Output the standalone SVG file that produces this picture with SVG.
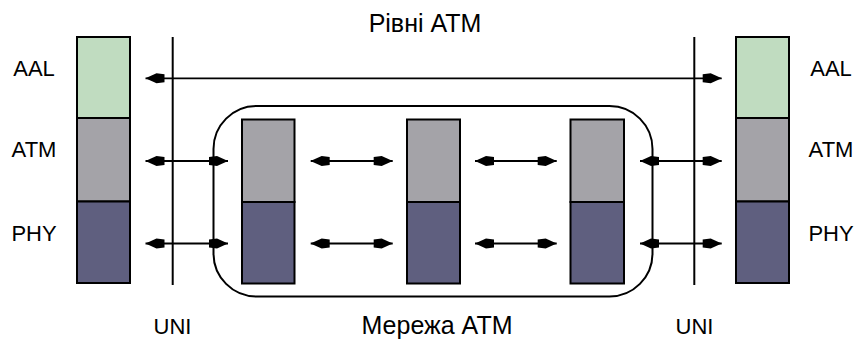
<svg xmlns="http://www.w3.org/2000/svg" width="856" height="340" viewBox="0 0 856 340">
<style>
text{font-family:"Liberation Sans",Arial,sans-serif;fill:#000}
.lbl{font-size:22px;text-anchor:middle}
.ttl{font-size:25px;text-anchor:middle}
.aal{fill:#c0dcc0;stroke:#000;stroke-width:2}
.atm{fill:#a4a3a8;stroke:#000;stroke-width:2}
.phy{fill:#5f5f7f;stroke:#000;stroke-width:2}
.ln{stroke:#000;stroke-width:2;fill:none}
.ar{stroke:#000;stroke-width:1.8;fill:none;marker-start:url(#ah);marker-end:url(#ah)}
</style>
<defs>
<marker id="ah" viewBox="0 0 20 11" refX="20" refY="5.5" markerWidth="20" markerHeight="11" markerUnits="userSpaceOnUse" orient="auto-start-reverse">
<path d="M20,5.5 L9,0.5 L1,1.5 L1,9.5 L9,10.5 Z" fill="#000"/>
</marker>
</defs>
<rect width="856" height="340" fill="#fff"/>
<text class="ttl" x="425" y="32">Рівні ATM</text>
<text class="ttl" x="437" y="334">Мережа ATM</text>
<text class="lbl" x="172.5" y="334">UNI</text>
<text class="lbl" x="694.5" y="334">UNI</text>
<g id="net">
<rect class="ln" x="213.5" y="106" width="439" height="190.5" rx="43" ry="43"/>
</g>
<g id="uni-left"><line class="ln" x1="172.7" y1="37" x2="172.7" y2="285"/></g>
<g id="uni-right"><line class="ln" x1="694.3" y1="37" x2="694.3" y2="285"/></g>
<g id="stack-left">
<rect class="aal" x="77" y="37" width="53" height="81"/>
<rect class="atm" x="77" y="118" width="53" height="83.5"/>
<rect class="phy" x="77" y="201.5" width="53" height="81.5"/>
<text class="lbl" x="34" y="76">AAL</text>
<text class="lbl" x="34" y="157">ATM</text>
<text class="lbl" x="34" y="241">PHY</text>
</g>
<g id="stack-right">
<rect class="aal" x="736" y="37" width="53" height="81"/>
<rect class="atm" x="736" y="118" width="53" height="83.5"/>
<rect class="phy" x="736" y="201.5" width="53" height="81.5"/>
<text class="lbl" x="831" y="76">AAL</text>
<text class="lbl" x="831" y="157">ATM</text>
<text class="lbl" x="831" y="241">PHY</text>
</g>
<g id="switch-1">
<rect class="atm" x="242" y="119.5" width="52.5" height="82.5"/>
<rect class="phy" x="242" y="202" width="52.5" height="81.5"/>
</g>
<g id="switch-2">
<rect class="atm" x="407" y="119.5" width="53" height="82.5"/>
<rect class="phy" x="407" y="202" width="53" height="81.5"/>
</g>
<g id="switch-3">
<rect class="atm" x="570.5" y="119.5" width="53.5" height="82.5"/>
<rect class="phy" x="570.5" y="202" width="53.5" height="81.5"/>
</g>
<g id="connectors">
<line class="ar" x1="145.5" y1="78.3" x2="721.7" y2="78.3"/>
<line class="ar" x1="145.5" y1="161" x2="228" y2="161"/>
<line class="ar" x1="145.5" y1="243.5" x2="228" y2="243.5"/>
<line class="ar" x1="310.7" y1="161" x2="392.7" y2="161"/>
<line class="ar" x1="310.7" y1="243.5" x2="392.7" y2="243.5"/>
<line class="ar" x1="475" y1="161" x2="556.7" y2="161"/>
<line class="ar" x1="475" y1="243.5" x2="556.7" y2="243.5"/>
<line class="ar" x1="640" y1="161" x2="721.7" y2="161"/>
<line class="ar" x1="640" y1="243.5" x2="721.7" y2="243.5"/>
</g>
</svg>
